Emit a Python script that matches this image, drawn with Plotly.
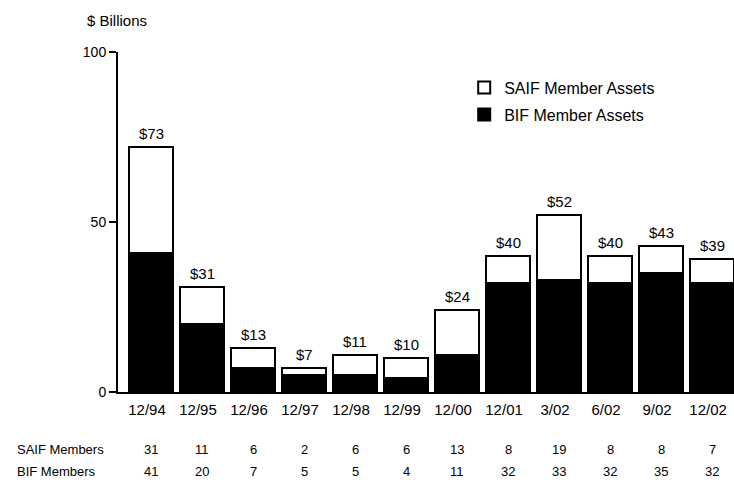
import plotly.graph_objects as go

periods = ["12/94", "12/95", "12/96", "12/97", "12/98", "12/99",
           "12/00", "12/01", "3/02", "6/02", "9/02", "12/02"]
saif_assets = [31, 11, 6, 2, 6, 6, 13, 8, 19, 8, 8, 7]
bif_assets = [41, 20, 7, 5, 5, 4, 11, 32, 33, 32, 35, 32]
total_labels = ["$73", "$31", "$13", "$7", "$11", "$10",
                "$24", "$40", "$52", "$40", "$43", "$39"]
y_ticks = [0, 50, 100]

FONT = "Liberation Sans, Arial, sans-serif"

fig = go.Figure()
fig.add_trace(go.Bar(
    x=periods, y=bif_assets, name="BIF Member Assets",
    marker=dict(color="black", line=dict(color="black", width=2)),
    legendgroup="bif", legendrank=2,
))
fig.add_trace(go.Bar(
    x=periods, y=saif_assets, name="SAIF Member Assets",
    marker=dict(color="white", line=dict(color="black", width=2)),
    legendgroup="saif", legendrank=1,
))

annotations = []
for p, b, s, lab in zip(periods, bif_assets, saif_assets, total_labels):
    annotations.append(dict(x=p, y=b + s, xref="x", yref="y", text=lab,
                            showarrow=False, yanchor="bottom", yshift=3,
                            font=dict(size=15, color="black", family=FONT)))
for p, s, b in zip(periods, saif_assets, bif_assets):
    annotations.append(dict(x=p, y=-0.168, xref="x", yref="paper", text=str(s),
                            showarrow=False, yanchor="middle",
                            font=dict(size=13, color="black", family=FONT)))
    annotations.append(dict(x=p, y=-0.235, xref="x", yref="paper", text=str(b),
                            showarrow=False, yanchor="middle",
                            font=dict(size=13, color="black", family=FONT)))
annotations.append(dict(x=-0.167, y=-0.168, xref="paper", yref="paper",
                        text="SAIF Members", showarrow=False, xanchor="left",
                        yanchor="middle", font=dict(size=13, color="black", family=FONT)))
annotations.append(dict(x=-0.167, y=-0.235, xref="paper", yref="paper",
                        text="BIF Members", showarrow=False, xanchor="left",
                        yanchor="middle", font=dict(size=13, color="black", family=FONT)))
annotations.append(dict(x=-0.0536, y=1.094, xref="paper", yref="paper",
                        text="$ Billions", showarrow=False, xanchor="left",
                        yanchor="middle", font=dict(size=15, color="black", family=FONT)))

fig.update_layout(
    width=734, height=485,
    margin=dict(l=118, r=0, t=52, b=93),
    paper_bgcolor="white", plot_bgcolor="white",
    barmode="stack", bargap=0.13,
    font=dict(family=FONT, color="black", size=15),
    showlegend=True,
    legend=dict(x=0.562, y=0.945, xanchor="left", yanchor="top",
                traceorder="grouped", tracegroupgap=3,
                font=dict(size=16, family=FONT, color="black"),
                bgcolor="rgba(0,0,0,0)"),
    annotations=annotations,
)
fig.update_xaxes(type="category", range=[-0.647, 11.43],
                 showline=True, linecolor="black", linewidth=2,
                 ticks="", showgrid=False, zeroline=False,
                 tickfont=dict(size=15, family=FONT, color="black"),
                 ticklabelstandoff=3, ticklabelshift=-4)
fig.update_yaxes(range=[0, 100], tickvals=y_ticks,
                 showline=True, linecolor="black", linewidth=2,
                 ticks="outside", ticklen=7, tickwidth=2, tickcolor="black",
                 showgrid=False, zeroline=False,
                 tickfont=dict(size=14, family=FONT, color="black"))

fig.write_html("out.html", config={"displayModeBar": False})
with open("out.html", "r", encoding="utf-8") as f:
    html = f.read()
html = html.replace("<head>", "<head><style>html,body{margin:0;padding:0;overflow:hidden;}</style>", 1)
with open("out.html", "w", encoding="utf-8") as f:
    f.write(html)
